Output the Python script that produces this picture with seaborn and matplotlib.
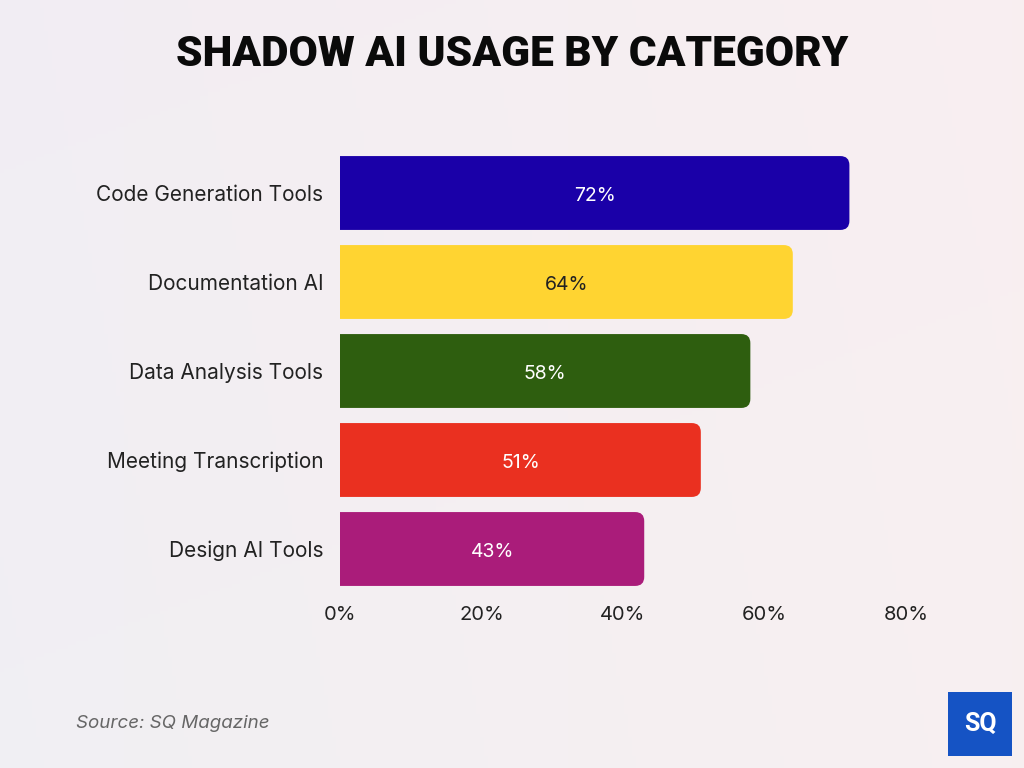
import numpy as np
import pandas as pd
import matplotlib
matplotlib.use("Agg")
import matplotlib.pyplot as plt
import seaborn as sns
from matplotlib.patches import FancyBboxPatch

categories = ["Code Generation Tools", "Documentation AI", "Data Analysis Tools",
              "Meeting Transcription", "Design AI Tools"]
values = [72, 64, 58, 51, 43]
colors = ["#1a00a8", "#ffd431", "#2e5e0f", "#ea3020", "#aa1c7a"]
label_colors = ["white", "#222222", "white", "white", "white"]
xticks = [0, 20, 40, 60, 80]
xtick_labels = ["0%", "20%", "40%", "60%", "80%"]
title = "SHADOW AI USAGE BY CATEGORY"
source = "Source: SQ Magazine"

df = pd.DataFrame({"category": categories, "value": values})

sns.set_theme(style="white")
plt.rcParams["font.family"] = ["Inter", "DejaVu Sans"]

fig = plt.figure(figsize=(10.24, 7.68), dpi=100)

# background gradient
bg = fig.add_axes([0, 0, 1, 1], zorder=-10)
h, w = 200, 256
yy, xx = np.mgrid[0:1:h*1j, 0:1:w*1j]
c_left = np.array([0.93, 0.93, 0.96])
c_mid = np.array([0.975, 0.935, 0.945])
c_bot = np.array([0.965, 0.95, 0.945])
img = (c_left[None, None, :] * (1 - xx[..., None]) * 0.6
       + c_mid[None, None, :] * (xx[..., None] * 0.6 + 0.4 * (1 - yy[..., None]))
       + c_bot[None, None, :] * 0.4 * yy[..., None])
img = np.clip(img, 0, 1)
bg.imshow(img, aspect="auto", extent=[0, 1, 0, 1], origin="upper")
bg.axis("off")

ax = fig.add_axes([340/1024, 1 - 593.5/768, (906 - 340)/1024, (593.5 - 148.5)/768])
ax.patch.set_alpha(0)
sns.barplot(data=df, x="value", y="category", hue="category", palette=colors,
            legend=False, orient="h", width=0.83, ax=ax, saturation=1)

ax.set_xlim(0, 80)
ax.set_ylim(4.5, -0.5)

# rounded right corners
px_per_x = (906 - 340) / 80
px_per_y = 445 / 5
r_px = 9
r = r_px / px_per_x
aspect = px_per_x / px_per_y
for p, col in zip(list(ax.patches), colors):
    x0, y0, wdt, hgt = p.get_x(), p.get_y(), p.get_width(), p.get_height()
    p.set_visible(False)
    fb = FancyBboxPatch((x0 - 3 * r, y0), wdt + 3 * r, hgt,
                        boxstyle=f"round,pad=0,rounding_size={r}",
                        mutation_aspect=aspect, facecolor=col, edgecolor="none",
                        clip_on=True, zorder=2)
    ax.add_patch(fb)

for i, (v, lc) in enumerate(zip(values, label_colors)):
    ax.text(v / 2, i + 0.03, f"{v}%", ha="center", va="center", color=lc,
            fontsize=14, zorder=3)

ax.set_xticks(xticks)
ax.set_xticklabels(xtick_labels, fontsize=14.5, color="#222222")
ax.tick_params(axis="x", length=0, pad=9)
ax.tick_params(axis="y", length=0, pad=12, labelsize=15, labelcolor="#222222")
ax.set_xlabel("")
ax.set_ylabel("")
for s in ax.spines.values():
    s.set_visible(False)
ax.grid(False)

fig.text(0.5, 1 - 54/768, title, ha="center", va="center", fontsize=30.5,
         fontweight="black", family=["Roboto", "DejaVu Sans"], color="#0a0a0a")
fig.text(76/1024, 1 - 724/768, source, ha="left", va="center", fontsize=13.5,
         style="italic", color="#666666")

# logo
logo = FancyBboxPatch((948/1024, 1 - 756/768), 64/1024, 64/768,
                      boxstyle="square,pad=0", transform=fig.transFigure,
                      facecolor="#1553c4", edgecolor="none")
fig.patches.append(logo)
fig.text(980/1024, 1 - 724/768, "SQ", ha="center", va="center", color="white",
         fontsize=18, fontweight="bold", family=["Roboto", "DejaVu Sans"])

fig.savefig("out.png", dpi=100)
